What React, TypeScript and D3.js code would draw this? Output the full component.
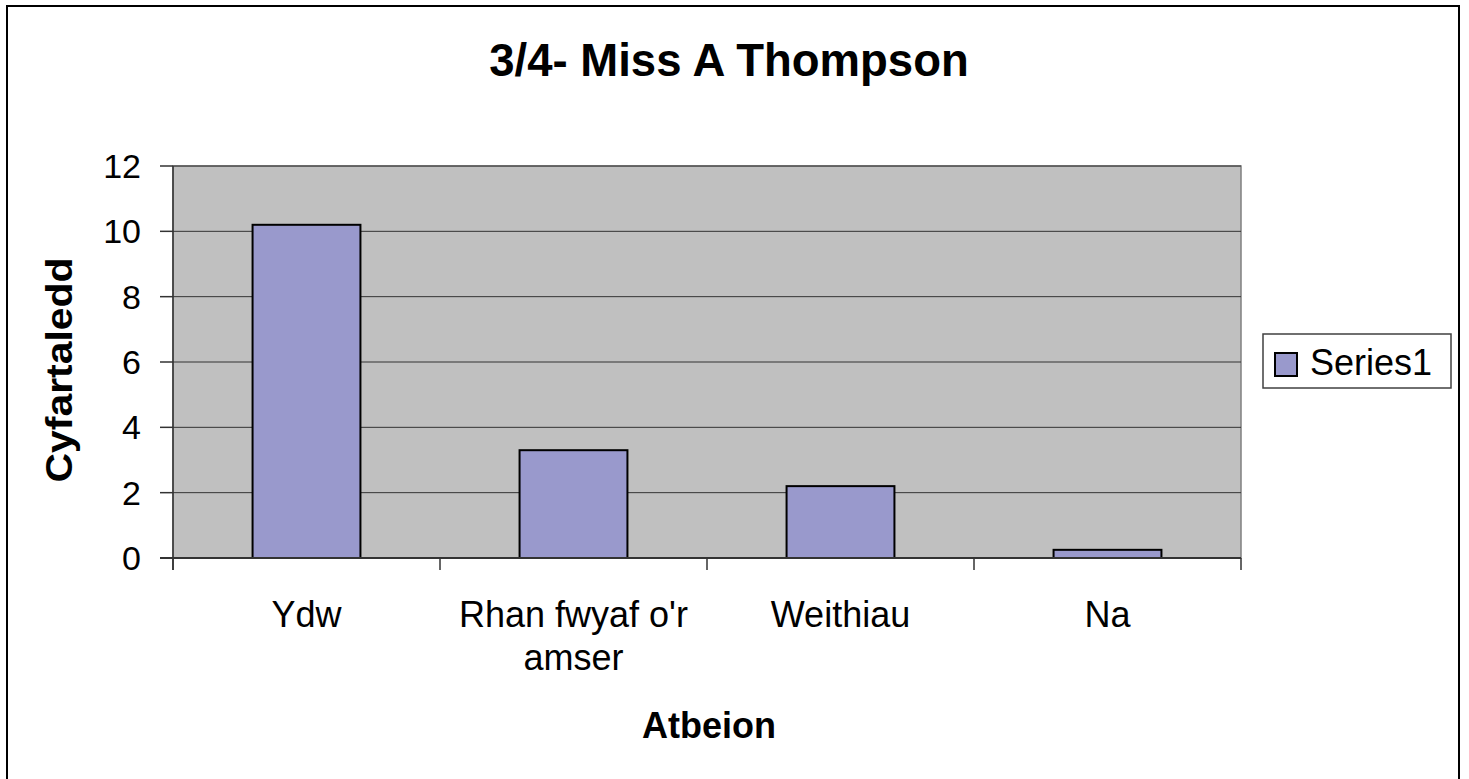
import React from 'react';
import * as d3 from 'd3';

// Single-series column chart, Excel 2003 look: grey plot area, lilac bars.

const categories = ['Ydw', "Rhan fwyaf o'r amser", 'Weithiau', 'Na'];
const categoryLines = [['Ydw'], ["Rhan fwyaf o'r", 'amser'], ['Weithiau'], ['Na']];
const values = [10.2, 3.3, 2.2, 0.25];
const yTicks = [0, 2, 4, 6, 8, 10, 12];
const seriesName = 'Series1';

const W = 1469;
const H = 779;
const PLOT_LEFT = 173;
const PLOT_RIGHT = 1241;
const PLOT_TOP = 166;
const PLOT_BOTTOM = 558;
const FONT = '"Liberation Sans", Arial, sans-serif';

export default function App() {
  const x = d3
    .scaleBand<string>()
    .domain(categories)
    .range([PLOT_LEFT, PLOT_RIGHT])
    .paddingInner(0.596)
    .paddingOuter(0.298);
  const y = d3.scaleLinear().domain([0, 12]).range([PLOT_BOTTOM, PLOT_TOP]);

  const step = x.step();
  const bounds = d3.range(categories.length + 1).map((i) => PLOT_LEFT + i * step);

  return (
    <svg
      width={W}
      height={H}
      style={{ position: 'absolute', left: 0, top: 0, display: 'block' }}
      fontFamily={FONT}
    >
      <rect width={W} height={H} fill="#fff" />
      {/* outer chart border (bottom edge runs off the picture) */}
      <rect x={7} y={6} width={1452} height={800} fill="none" stroke="#000" strokeWidth={2} />

      {/* plot area */}
      <rect
        x={PLOT_LEFT}
        y={PLOT_TOP}
        width={PLOT_RIGHT - PLOT_LEFT}
        height={PLOT_BOTTOM - PLOT_TOP}
        fill="#c0c0c0"
        stroke="#808080"
        strokeWidth={1.5}
      />
      {yTicks.slice(1).map((t) => (
        <line key={t} x1={PLOT_LEFT} x2={PLOT_RIGHT} y1={y(t)} y2={y(t)} stroke="#333" strokeWidth={1} />
      ))}

      {/* bars */}
      {categories.map((c, i) => (
        <rect
          key={c}
          x={x(c)}
          y={y(values[i])}
          width={x.bandwidth()}
          height={y(0) - y(values[i])}
          fill="#9999cc"
          stroke="#000"
          strokeWidth={2}
        />
      ))}

      {/* y axis */}
      <line x1={PLOT_LEFT} x2={PLOT_LEFT} y1={PLOT_TOP} y2={PLOT_BOTTOM + 12} stroke="#333" strokeWidth={1.5} />
      {yTicks.map((t) => (
        <g key={t}>
          <line x1={PLOT_LEFT - 13} x2={PLOT_LEFT} y1={y(t)} y2={y(t)} stroke="#333" strokeWidth={1.5} />
          <text x={141} y={y(t) + 12} textAnchor="end" fontSize={34} fill="#000">
            {t}
          </text>
        </g>
      ))}

      {/* x axis */}
      <line x1={PLOT_LEFT - 13} x2={PLOT_RIGHT} y1={PLOT_BOTTOM} y2={PLOT_BOTTOM} stroke="#333" strokeWidth={2} />
      {bounds.map((b, i) => (
        <line key={i} x1={b} x2={b} y1={PLOT_BOTTOM} y2={PLOT_BOTTOM + 12} stroke="#333" strokeWidth={1.5} />
      ))}
      {categories.map((c, i) => (
        <text key={c} x={x(c)! + x.bandwidth() / 2} textAnchor="middle" fontSize={36} fill="#000">
          {categoryLines[i].map((line, j) => (
            <tspan key={j} x={x(c)! + x.bandwidth() / 2} y={627 + j * 43}>
              {line}
            </tspan>
          ))}
        </text>
      ))}

      {/* titles */}
      <text x={729} y={76} textAnchor="middle" fontSize={45.5} fontWeight="bold" fill="#000">
        3/4- Miss A Thompson
      </text>
      <text x={709} y={738} textAnchor="middle" fontSize={36} fontWeight="bold" fill="#000">
        Atbeion
      </text>
      <text
        transform="translate(72,370) rotate(-90)"
        textAnchor="middle"
        fontSize={36}
        fontWeight="bold"
        fill="#000"
        textLength={225}
        lengthAdjust="spacingAndGlyphs"
      >
        Cyfartaledd
      </text>

      {/* legend */}
      <rect x={1263} y={334} width={188} height={54} fill="#fff" stroke="#404040" strokeWidth={1.5} />
      <rect x={1275} y={353} width={22} height={23} fill="#9999cc" stroke="#000" strokeWidth={2} />
      <text x={1310} y={375} fontSize={36} fill="#000">
        {seriesName}
      </text>
    </svg>
  );
}
